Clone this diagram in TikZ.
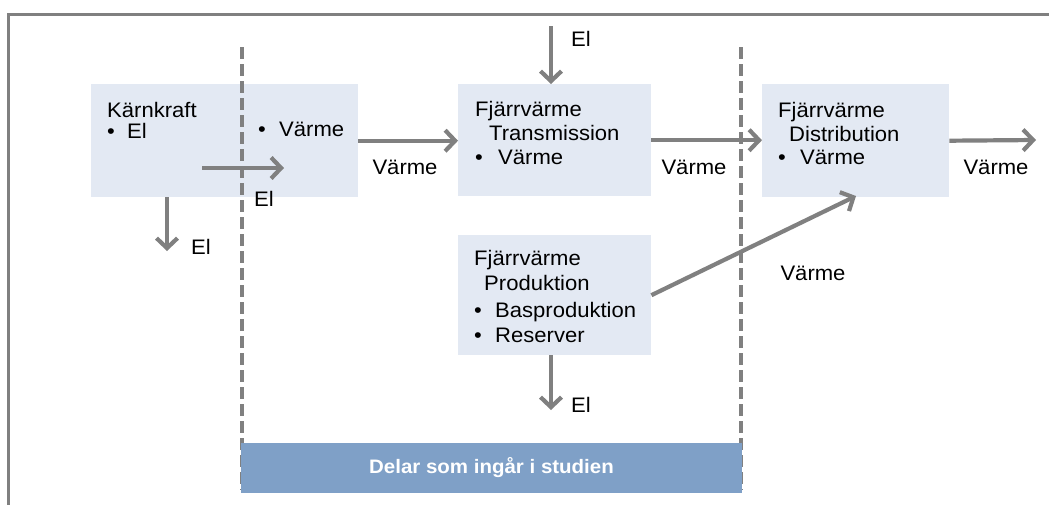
\documentclass[tikz,border=0pt]{standalone}
\usepackage{fontspec}
\setmainfont[FakeStretch=1.05]{Liberation Sans}
\usetikzlibrary{arrows.meta}
\definecolor{boxfill}{HTML}{E3E9F3}
\definecolor{linegray}{HTML}{808080}
\definecolor{bannerfill}{HTML}{7FA0C7}
\begin{document}
\begin{tikzpicture}[x=1pt,y=-1pt,
  box/.style={fill=boxfill,draw=none,anchor=north west,inner sep=0pt},
  txt/.style={anchor=base west,inner sep=0pt,font=\fontsize{21}{24}\selectfont},
  lbl/.style={anchor=base,inner sep=0pt,font=\fontsize{21}{24}\selectfont},
  arr/.style={draw=linegray,line width=4.2pt,-{Straight Barb[length=10pt,width=21pt]}},
  divider/.style={draw=linegray,line width=3.2pt,dash pattern=on 12pt off 5pt},
  banner/.style={fill=bannerfill,draw=none,inner sep=0pt,minimum width=501pt,minimum height=50pt,text=white,font=\bfseries\fontsize{19.5}{22}\selectfont}
]
\useasboundingbox (0,0) rectangle (1049,504);
\clip (0,0) rectangle (1049,504);
% frame
\draw[draw=linegray,line width=3.6pt] (8.5,14.5) rectangle (1070,530);

% boxes
\node[box,minimum width=267pt,minimum height=113pt] (kk) at (91,84) {};
\node[box,minimum width=193pt,minimum height=112pt] (tr) at (458,84) {};
\node[box,minimum width=187pt,minimum height=113pt] (di) at (762,84) {};
\node[box,minimum width=193pt,minimum height=120pt] (pr) at (458,235) {};

% dividers
\coordinate (d1t) at (242,47);
\coordinate (d1b) at (242,490);
\coordinate (d2t) at (741,47);
\coordinate (d2b) at (741,490);
\draw[divider] (d1t) -- (d1b);
\draw[divider] (d2t) -- (d2b);

% box texts
\node[txt] (kkh) at (107,117) {Kärnkraft};
\node[txt] (kkb1) at (107,138) {•};
\node[txt] (kkel) at (127,138) {El};
\node[txt] (kkb2) at (258,136) {•};
\node[txt] (kkv) at (279,136) {Värme};

\node[txt] (trh1) at (475,116) {Fjärrvärme};
\node[txt] (trh2) at (489,140) {Transmission};
\node[txt] (trb) at (475,164) {•};
\node[txt] (trv) at (498,164) {Värme};

\node[txt] (dih1) at (778,117) {Fjärrvärme};
\node[txt] (dih2) at (789,141) {Distribution};
\node[txt] (dib) at (778,164) {•};
\node[txt] (div) at (800,164) {Värme};

\node[txt] (prh1) at (474,265) {Fjärrvärme};
\node[txt] (prh2) at (484,290) {Produktion};
\node[txt] (prb1) at (474,317) {•};
\node[txt] (prt1) at (495,317) {Basproduktion};
\node[txt] (prb2) at (474,342) {•};
\node[txt] (prt2) at (495,342) {Reserver};

% connectors
\coordinate (kin) at (202,168);
\coordinate (kout) at (284,168);
\draw[arr] (kin) -- (kout);
\coordinate (kdown) at (167,251);
\draw[arr] (kk.south -| kdown) -- (kdown);
\draw[arr] (kk.east) -- (kk.east -| tr.west);
\coordinate (tin) at (551,26);
\draw[arr] (tin) -- (tin |- tr.north);
\draw[arr] (tr.east) -- (tr.east -| di.west);
\coordinate (dout) at (1036,140);
\draw[arr] (di.east) -- (dout);
\coordinate (pdown) at (551,410);
\draw[arr] (pr.south -| pdown) -- (pdown);
\coordinate (dtarget) at (856,196);
\draw[arr] (pr.east) -- (dtarget);

% connector labels
\node[lbl] (l1) at (264,206) {El};
\node[lbl] (l2) at (201,254) {El};
\node[lbl] (l3) at (405,174) {Värme};
\node[lbl] (l4) at (581,46) {El};
\node[lbl] (l5) at (694,174) {Värme};
\node[lbl] (l6) at (996,174) {Värme};
\node[lbl] (l7) at (813,280) {Värme};
\node[lbl] (l8) at (581,412) {El};

% banner
\node[banner] (ban) at (491.5,468) {Delar som ingår i studien};
\end{tikzpicture}
\end{document}
